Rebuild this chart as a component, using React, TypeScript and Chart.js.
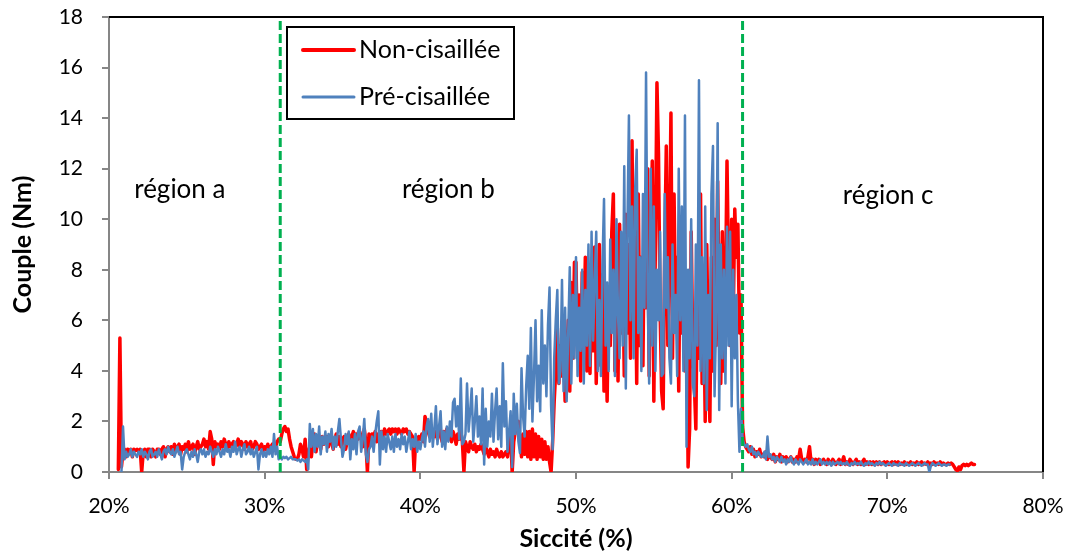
import React, { useEffect, useRef } from "react";
import { Chart, registerables } from "chart.js";

Chart.register(...registerables);

const SICCITE_STEP = 0.1;
const RED_START = 20.6;
const BLUE_START = 20.8;

// Non-cisaillée (couple, Nm), one row per 1 % of siccité
const redCouple: number[] = [
  0.1, 5.3, 0.2, 0.8,
  0.9, 0.6, 0.9, 0.8, 0.9, 0.6, 0.9, 0.85, 0.9, 0.8,
  0.9, 0.0, 0.8, 0.9, 0.6, 0.9, 0.9, 0.6, 0.9, 0.8,
  0.6, 0.9, 0.9, 0.7, 0.9, 1.0, 0.6, 0.9, 1.0, 0.8,
  1.0, 0.7, 1.1, 0.8, 1.0, 1.1, 0.7, 1.0, 0.9, 1.1,
  0.8, 1.2, 0.9, 1.0, 1.1, 0.7, 1.0, 1.2, 0.9, 1.0,
  1.1, 1.3, 1.0, 1.2, 0.9, 1.6, 1.3, 0.3, 1.2, 1.0,
  1.1, 0.9, 1.2, 1.0, 1.3, 1.1, 0.9, 1.2, 1.0, 1.1,
  1.2, 0.9, 1.1, 1.3, 1.0, 1.2, 1.1, 0.9, 1.2, 1.0,
  1.1, 1.2, 0.9, 1.0, 1.2, 1.1, 0.9, 1.0, 1.1, 0.8,
  1.0, 0.9, 1.1, 0.8, 1.0, 1.1, 0.9, 1.0, 1.2, 1.3,
  1.2, 1.5, 1.7, 1.8, 1.6, 1.7, 1.3, 1.0, 0.8, 0.6,
  0.5, 0.5, 0.7, 1.1, 0.9, 0.6, 1.3, 0.1, 0.8, 1.0,
  0.6, 1.2, 1.5, 0.8, 1.3, 1.4, 0.9, 1.4, 1.1, 1.3,
  1.4, 1.0, 1.4, 1.2, 0.9, 1.3, 1.5, 1.1, 1.4, 1.0,
  1.3, 1.4, 0.9, 1.2, 1.5, 1.1, 1.4, 1.6, 1.2, 1.5,
  1.3, 1.6, 1.4, 1.0, 1.7, 1.2, 0.0, 1.5, 1.2, 1.5,
  1.4, 1.6, 1.2, 1.5, 1.3, 1.6, 1.4, 1.7, 1.5, 1.6,
  1.7, 1.5, 1.7, 1.6, 1.7, 1.5, 1.7, 1.6, 1.5, 1.7,
  1.6, 1.7, 1.5, 1.6, 1.5, 1.4, 0.0, 1.3, 1.2, 1.4,
  1.3, 1.5, 1.2, 2.2, 1.9, 1.6, 1.4, 1.7, 1.5, 1.4,
  1.6, 1.3, 1.8, 1.5, 1.2, 1.6, 1.4, 1.7, 1.3, 1.5,
  1.2, 1.6, 1.4, 1.1, 1.5, 1.3, 1.6, 1.2, 0.0, 1.2,
  1.0, 0.8, 1.2, 1.0, 0.9, 1.1, 0.8, 1.0, 0.9, 1.1,
  0.9, 0.7, 1.0, 0.8, 0.6, 0.9, 0.7, 0.8, 0.6, 0.9,
  0.7, 0.6, 0.8, 0.6, 0.7, 0.8, 0.6, 1.2, 1.5, 0.0,
  1.2, 1.6, 1.9, 2.0, 1.3, 0.6, 1.5, 0.7, 1.6, 0.6,
  1.6, 0.5, 1.7, 0.6, 1.5, 0.5, 1.4, 0.6, 1.3, 0.5,
  1.2, 0.5, 1.0, 0.4, 0.0, 1.2, 2.8, 4.0, 5.7, 3.5,
  5.0, 3.8, 5.1, 2.8, 4.5, 6.0, 3.2, 7.5, 4.5, 8.3,
  8.3, 4.5, 7.0, 3.6, 7.9, 5.2, 8.5, 4.0, 6.8, 3.9,
  7.5, 4.8, 8.9, 3.5, 6.5, 9.0, 4.2, 7.8, 3.2, 6.0,
  2.8, 7.2, 5.0, 9.5, 11.0, 4.0, 8.0, 3.6, 9.8, 5.5,
  8.5, 3.8, 10.2, 5.5, 9.0, 4.5, 13.1, 6.0, 9.5, 3.5,
  11.0, 5.0, 8.5, 4.2, 10.5, 6.5, 12.0, 3.8, 9.0, 12.3,
  2.8, 9.0, 15.4, 12.6, 6.5, 3.2, 2.5, 8.8, 12.9, 5.0,
  9.0, 14.2, 4.5, 11.0, 6.0, 8.5, 3.2, 10.0, 5.5, 8.0,
  4.0, 7.5, 0.2, 1.7, 9.5, 5.0, 3.5, 1.7, 8.0, 4.5,
  11.0, 3.5, 7.0, 2.0, 9.0, 4.5, 2.0, 8.5, 4.0, 10.0,
  5.0, 11.5, 6.0, 3.5, 9.5, 4.0, 7.0, 12.3, 8.0, 5.0,
  10.0, 6.0, 10.4, 8.5, 9.8, 5.5, 7.0, 1.8, 1.2, 1.0,
  0.9, 0.8, 1.0, 0.7, 0.9, 0.6, 0.8, 0.7, 0.9, 0.6,
  0.7, 0.6, 0.8, 0.5, 0.7, 0.6, 0.5, 0.7, 0.4, 0.6,
  0.5, 0.7, 0.4, 0.6, 0.5, 0.6, 0.4, 0.5, 0.6, 0.4,
  0.5, 0.4, 0.6, 0.5, 0.9, 0.5, 0.4, 0.5, 0.4, 0.6,
  1.0, 0.4, 0.5, 0.3, 0.5, 0.4, 0.5, 0.3, 0.4, 0.5,
  0.4, 0.3, 0.5, 0.4, 0.3, 0.5, 0.4, 0.3, 0.4, 0.5,
  0.3, 0.4, 0.6, 0.3, 0.4, 0.3, 0.5, 0.4, 0.3, 0.4,
  0.5, 0.3, 0.4, 0.3, 0.4, 0.5, 0.3, 0.4, 0.3, 0.4,
  0.3, 0.4, 0.3, 0.4, 0.3, 0.4, 0.3, 0.35, 0.4, 0.3,
  0.4, 0.3, 0.35, 0.4, 0.3, 0.4, 0.3, 0.4, 0.3, 0.35,
  0.3, 0.4, 0.3, 0.35, 0.3, 0.4, 0.3, 0.35, 0.3, 0.4,
  0.3, 0.35, 0.4, 0.3, 0.35, 0.3, 0.4, 0.3, 0.35, 0.3,
  0.4, 0.3, 0.35, 0.3, 0.4, 0.3, 0.35, 0.3, 0.3, 0.35,
  0.3, 0.35, 0.3, 0.2, 0.1, 0.05, 0.2, 0.1, 0.25, 0.3,
  0.25, 0.3, 0.25, 0.3, 0.35, 0.3, 0.3,
];

// Pré-cisaillée (couple, Nm), one row per 1 % of siccité
const blueCouple: number[] = [
  0.0, 1.8,
  0.5, 0.8, 0.6, 0.7, 0.9, 0.6, 0.8, 0.7, 0.6, 0.8,
  0.7, 0.9, 0.6, 0.8, 0.7, 0.5, 0.8, 0.9, 0.6, 0.7,
  0.8, 0.6, 0.9, 0.7, 0.5, 0.8, 0.9, 0.7, 1.0, 0.8,
  0.7, 0.9, 0.6, 0.8, 1.0, 0.7, 0.8, 0.1, 0.6, 0.8,
  0.9, 0.7, 0.5, 0.8, 0.6, 0.9, 0.7, 0.4, 0.8, 0.9,
  0.7, 0.9, 0.6, 0.8, 0.7, 1.0, 0.8, 0.6, 0.9, 0.7,
  1.0, 0.8, 0.6, 0.9, 0.7, 1.1, 0.8, 0.9, 0.6, 1.0,
  0.8, 1.2, 0.7, 0.9, 1.0, 0.6, 0.9, 1.1, 0.7, 0.8,
  1.0, 0.7, 0.9, 0.6, 0.8, 1.0, 0.1, 0.7, 0.9, 0.6,
  0.8, 0.6, 0.9, 0.7, 1.0, 0.6, 1.5, 0.7, 1.0, 0.5,
  0.6, 0.5, 0.6, 0.55, 0.6, 0.5, 0.55, 0.6, 0.5, 0.5,
  0.5, 0.45, 0.5, 0.4, 0.5, 0.45, 0.4, 0.5, 0.1, 1.9,
  1.0, 1.7, 0.8, 1.5, 1.0, 1.8, 0.7, 1.4, 1.1, 1.6,
  0.8, 1.5, 1.2, 1.7, 0.9, 1.4, 1.0, 1.6, 2.1, 1.3,
  0.6, 0.9, 1.5, 1.1, 1.6, 0.5, 1.3, 0.9, 1.5, 0.7,
  1.6, 1.8, 0.8, 1.3, 2.1, 0.7, 0.4, 0.9, 1.0, 1.4,
  0.8, 1.5, 2.0, 2.4, 0.3, 1.6, 0.9, 1.4, 0.8, 1.5,
  1.2, 0.9, 1.4, 0.8, 1.5, 1.0, 1.3, 0.9, 1.5, 1.1,
  1.4, 0.8, 1.2, 1.6, 0.9, 1.3, 1.0, 1.5, 0.8, 1.2,
  0.9, 1.3, 1.6, 1.0, 1.8, 2.1, 1.2, 2.3, 1.0, 1.7,
  2.6, 1.1, 1.8, 2.4, 1.0, 1.6, 0.9, 1.8, 1.2, 2.0,
  1.4, 2.75, 2.9, 1.8, 2.6, 1.3, 3.7, 1.1, 1.2, 1.5,
  3.5, 1.6, 2.4, 3.3, 1.2, 2.0, 3.0, 1.4, 2.2, 1.1,
  3.3, 0.3, 2.5, 1.0, 2.0, 1.4, 3.1, 1.2, 2.4, 3.3,
  1.3, 2.6, 1.0, 4.3, 1.8, 2.8, 0.8, 1.6, 2.4, 0.2,
  3.1, 1.5, 2.7, 1.2, 0.75, 4.1, 2.2, 1.4, 3.4, 4.6,
  2.5, 5.7, 2.0, 3.8, 6.0, 2.8, 4.2, 2.4, 6.4, 3.5,
  5.0, 3.0, 5.8, 7.3, 2.6, 0.9, 4.5, 6.0, 7.2, 3.5,
  4.0, 7.6, 3.2, 6.5, 2.8, 5.5, 8.1, 3.5, 7.0, 4.5,
  8.5, 3.8, 6.5, 4.8, 8.0, 3.5, 7.2, 5.0, 9.0, 4.2,
  9.5, 5.2, 7.5, 9.5, 4.0, 6.8, 3.8, 8.2, 10.8, 5.0,
  7.5, 4.0, 9.2, 5.5, 8.0, 3.8, 10.0, 6.2, 4.5, 9.5,
  5.0, 12.1, 3.3, 9.5, 14.1, 6.0, 10.5, 4.5, 11.2, 12.75,
  5.5, 8.5, 4.0, 11.0, 6.5, 15.8, 7.0, 3.5, 12.0, 5.0,
  10.5, 4.0, 8.0, 6.0, 9.5, 3.8, 3.9, 11.0, 6.5, 8.5,
  4.5, 3.5, 9.0, 5.5, 7.0, 3.8, 12.0, 6.0, 10.5, 4.0,
  14.1, 1.0, 8.0, 4.5, 10.0, 3.5, 3.0, 9.0, 5.0, 15.5,
  4.0, 8.5, 3.5, 10.5, 2.45, 7.0, 4.5, 11.0, 12.9, 3.0,
  6.0, 13.8, 2.45, 9.0, 4.5, 8.0, 3.5, 9.7, 5.0, 9.5,
  2.6, 8.0, 4.5, 7.0, 2.8, 0.8, 2.5, 1.3, 1.1, 1.0,
  1.1, 0.9, 0.8, 1.0, 0.7, 0.8, 0.6, 0.8, 0.7, 0.6,
  0.6, 0.8, 0.5, 1.4, 0.6, 0.7, 0.5, 0.6, 0.4, 0.6,
  0.5, 0.4, 0.6, 0.4, 0.5, 0.3, 0.5, 0.4, 0.6, 0.4,
  0.3, 0.5, 0.4, 0.3, 0.5, 0.4, 0.3, 0.4, 0.5, 0.3,
  0.4, 0.3, 0.5, 0.3, 0.4, 0.3, 0.4, 0.5, 0.3, 0.4,
  0.3, 0.4, 0.3, 0.4, 0.25, 0.4, 0.3, 0.35, 0.4, 0.3,
  0.4, 0.3, 0.35, 0.3, 0.4, 0.3, 0.25, 0.35, 0.3, 0.4,
  0.3, 0.35, 0.3, 0.4, 0.3, 0.25, 0.35, 0.3, 0.4, 0.3,
  0.35, 0.3, 0.25, 0.35, 0.3, 0.4, 0.3, 0.35, 0.3, 0.25,
  0.3, 0.35, 0.3, 0.25, 0.35, 0.3, 0.3, 0.25, 0.35, 0.3,
  0.3, 0.25, 0.35, 0.3, 0.25, 0.3, 0.35, 0.3, 0.25, 0.3,
  0.35, 0.3, 0.25, 0.3, 0.35, 0.3, 0.3, 0.0, 0.25, 0.35,
  0.3, 0.25, 0.3, 0.35, 0.3, 0.25, 0.3, 0.3, 0.25, 0.3,
  0.3,
];

// Region boundaries (siccité %) and region labels
const regionBounds: number[] = [31.0, 60.7];
const regionLabels: string[] = ["région a", "région b", "région c"];
const regionLabelX: number[] = [24.55, 41.8, 70.05];
const regionLabelY: number[] = [10.85, 10.85, 10.6];

const seriesNames: string[] = ["Non-cisaillée", "Pré-cisaillée"];
const seriesColors: string[] = ["#FF0000", "#4F81BD"];

const X_MIN = 20, X_MAX = 80, X_STEP = 10;
const Y_MIN = 0, Y_MAX = 18, Y_STEP = 2;

const FONT = "Lato, 'Open Sans', sans-serif";

function toPoints(start: number, values: number[]) {
  return values.map((y, i) => ({ x: Math.round((start + i * SICCITE_STEP) * 100) / 100, y }));
}

const overlayPlugin = {
  id: "overlay",
  afterDraw(chart: any) {
    const { ctx, chartArea, scales } = chart;
    const xs = scales.x, ys = scales.y;
    ctx.save();
    // plot area border (top and right)
    ctx.strokeStyle = "#000";
    ctx.lineWidth = 2;
    ctx.beginPath();
    ctx.moveTo(chartArea.left, chartArea.top);
    ctx.lineTo(chartArea.right, chartArea.top);
    ctx.lineTo(chartArea.right, chartArea.bottom);
    ctx.stroke();

    // region labels
    ctx.fillStyle = "#000";
    ctx.font = `26px ${FONT}`;
    ctx.textAlign = "center";
    ctx.textBaseline = "alphabetic";
    regionLabels.forEach((t, i) => {
      ctx.fillText(t, xs.getPixelForValue(regionLabelX[i]), ys.getPixelForValue(regionLabelY[i]));
    });

    // legend box
    const bx = chartArea.left + 178, by = chartArea.top + 10, bw = 227, bh = 92;
    ctx.fillStyle = "#fff";
    ctx.fillRect(bx, by, bw, bh);
    ctx.strokeStyle = "#000";
    ctx.lineWidth = 2;
    ctx.strokeRect(bx, by, bw, bh);
    const rows = [by + 23, by + 70];
    const widths = [4, 3];
    seriesNames.forEach((name, i) => {
      ctx.strokeStyle = seriesColors[i];
      ctx.lineWidth = widths[i];
      ctx.lineCap = "round";
      ctx.beginPath();
      ctx.moveTo(bx + 16, rows[i]);
      ctx.lineTo(bx + 67, rows[i]);
      ctx.stroke();
      ctx.fillStyle = "#000";
      ctx.textAlign = "left";
      ctx.textBaseline = "middle";
      ctx.font = `25px ${FONT}`;
      ctx.fillText(name, bx + 72, rows[i]);
    });
    ctx.restore();
  },
};

export default function App() {
  const canvasRef = useRef<HTMLCanvasElement | null>(null);

  useEffect(() => {
    document.body.style.margin = "0";
    const canvas = canvasRef.current;
    if (!canvas) return;

    const boundaryDatasets = regionBounds.map((b) => ({
      label: "",
      data: [{ x: b, y: Y_MIN }, { x: b, y: Y_MAX }],
      borderColor: "#00B050",
      borderWidth: 3,
      borderDash: [9, 4],
      pointRadius: 0,
      order: 0,
    }));

    const chart = new Chart(canvas, {
      type: "line",
      data: {
        datasets: [
          {
            label: seriesNames[0],
            data: toPoints(RED_START, redCouple),
            borderColor: seriesColors[0],
            borderWidth: 3.5,
            pointRadius: 0,
            tension: 0,
            borderJoinStyle: "round",
            borderCapStyle: "round",
            order: 2,
          },
          {
            label: seriesNames[1],
            data: toPoints(BLUE_START, blueCouple),
            borderColor: seriesColors[1],
            borderWidth: 2.5,
            pointRadius: 0,
            tension: 0,
            borderJoinStyle: "round",
            borderCapStyle: "round",
            order: 1,
          },
          ...boundaryDatasets,
        ] as any,
      },
      options: {
        animation: false,
        responsive: false,
        devicePixelRatio: 1,
        events: [],
        layout: { padding: { left: 0, right: 29, top: 17, bottom: 0 } },
        plugins: { legend: { display: false }, tooltip: { enabled: false } },
        scales: {
          x: {
            type: "linear",
            min: X_MIN,
            max: X_MAX,
            afterFit: (s: any) => {
              s.height = 83;
              s.paddingLeft = 0;
              s.paddingRight = 0;
            },
            ticks: {
              stepSize: X_STEP,
              callback: (v: any) => `${v}%`,
              color: "#000",
              font: { family: FONT, size: 21 },
              padding: 15,
              maxRotation: 0,
            },
            grid: {
              drawOnChartArea: false,
              drawTicks: true,
              tickLength: 7,
              color: "#868686",
              lineWidth: 2,
            },
            border: { display: true, color: "#868686", width: 2 },
            title: {
              display: true,
              text: "Siccité (%)",
              color: "#000",
              font: { family: FONT, size: 25, weight: "bold" },
              padding: { top: 0, bottom: 1 },
            },
          },
          y: {
            type: "linear",
            min: Y_MIN,
            max: Y_MAX,
            afterFit: (s: any) => {
              s.width = 109;
              s.paddingTop = 0;
              s.paddingBottom = 0;
            },
            ticks: {
              stepSize: Y_STEP,
              color: "#000",
              font: { family: FONT, size: 21 },
              padding: 19,
            },
            grid: {
              drawOnChartArea: false,
              drawTicks: true,
              tickLength: 7,
              color: "#868686",
              lineWidth: 2,
            },
            border: { display: true, color: "#868686", width: 2 },
            title: {
              display: true,
              text: "Couple (Nm)",
              color: "#000",
              font: { family: FONT, size: 25, weight: "bold" },
              padding: { top: 8, bottom: 0 },
            },
          },
        },
      },
      plugins: [overlayPlugin],
    });

    return () => chart.destroy();
  }, []);

  return (
    <div style={{ width: 1072, height: 555, background: "#fff" }}>
      <canvas ref={canvasRef} width={1072} height={555} style={{ display: "block" }} />
    </div>
  );
}
